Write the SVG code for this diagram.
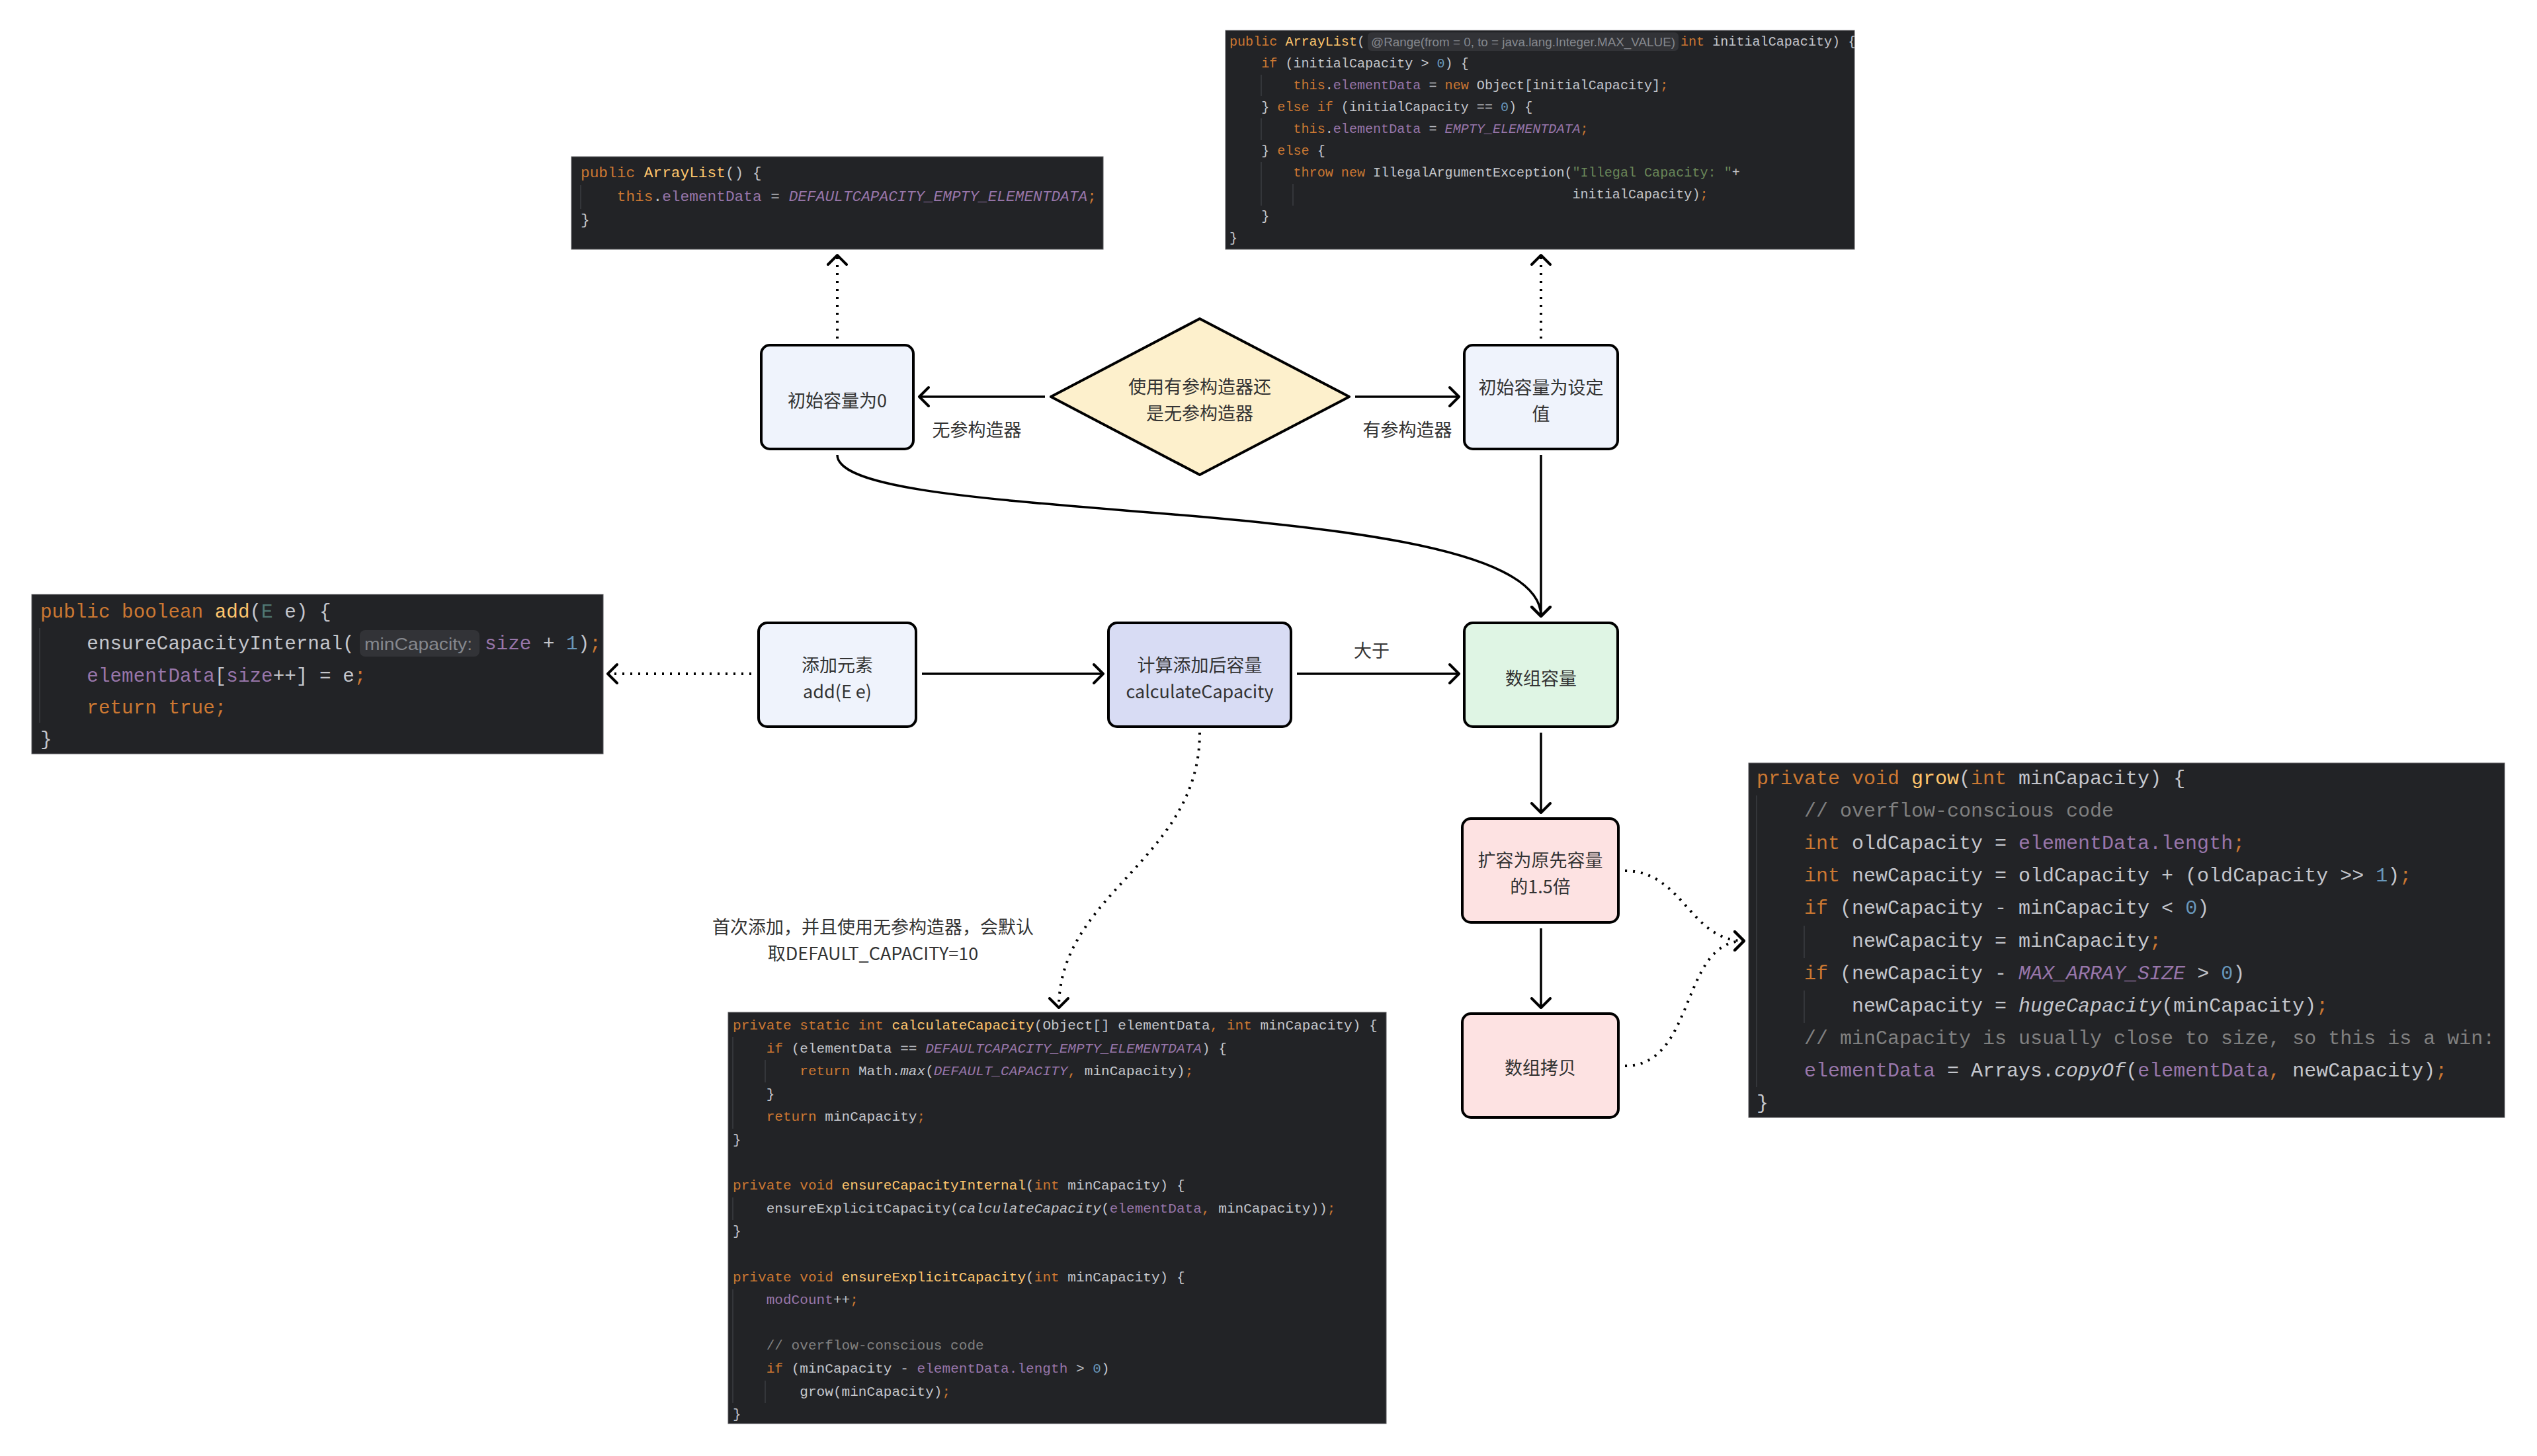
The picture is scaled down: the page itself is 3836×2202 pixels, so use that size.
<svg xmlns="http://www.w3.org/2000/svg" width="3836" height="2202" viewBox="0 0 3836 2202">
<style>
.bg{fill:#ffffff}
.code{fill:#222326;stroke:#5a5b5e;stroke-width:1}
.guide{stroke:#34363a;stroke-width:2}
.mono{font-family:"Liberation Mono","DejaVu Sans Mono",monospace;fill:#c4c6cc;dominant-baseline:central}
.k{fill:#cc7832}
.f{fill:#ffc66d}
.v{fill:#9876aa}
.c{fill:#9876aa;font-style:italic}
.i{font-style:italic}
.n{fill:#6897bb}
.s{fill:#6a8759}
.cm{fill:#808080}
.tp{fill:#507874}
.hintbg{fill:#323337}
.hint{font-family:"Liberation Sans","Noto Sans",sans-serif;fill:#85888e;dominant-baseline:central}
.node{stroke:#000;stroke-width:4}
.lbl{font-family:"Noto Sans CJK SC","Noto Sans",sans-serif;font-size:27px;fill:#333333;text-anchor:middle;dominant-baseline:central}
.solid{fill:none;stroke:#000;stroke-width:3.5}
.dot{fill:none;stroke:#000;stroke-width:4;stroke-dasharray:3 9}
</style>
<defs>
<marker id="arr" viewBox="-2 -18 20 36" refX="14" refY="0" markerWidth="20" markerHeight="36" markerUnits="userSpaceOnUse" orient="auto">
<path d="M0,-14 L14,0 L0,14" fill="none" stroke="#000" stroke-width="4" stroke-linecap="round" stroke-linejoin="round"/>
</marker>
</defs>
<rect class="bg" x="0" y="0" width="3836" height="2202"/>

<g id="code-arraylist-noarg">
<rect class="code" x="864" y="237" width="804" height="140"/>
<line class="guide" x1="878" y1="280" x2="878" y2="316"/>
<text class="mono" font-size="22.8" x="878" y="262" xml:space="preserve"><tspan class="k">public </tspan><tspan class="f">ArrayList</tspan>() {</text>
<text class="mono" font-size="22.8" x="878" y="298" xml:space="preserve">    <tspan class="k">this</tspan>.<tspan class="v">elementData</tspan> = <tspan class="c">DEFAULTCAPACITY_EMPTY_ELEMENTDATA</tspan><tspan class="k">;</tspan></text>
<text class="mono" font-size="22.8" x="878" y="333" xml:space="preserve">}</text>
</g>

<g id="code-arraylist-int">
<rect class="code" x="1853" y="46" width="951" height="331"/>
<line class="guide" x1="1907" y1="113" x2="1907" y2="145"/>
<line class="guide" x1="1907" y1="179" x2="1907" y2="212"/>
<line class="guide" x1="1907" y1="245" x2="1907" y2="311"/>
<line class="guide" x1="1955" y1="278" x2="1955" y2="311"/>
<text class="mono" font-size="20.1" x="1859" y="63" xml:space="preserve"><tspan class="k">public </tspan><tspan class="f">ArrayList</tspan>(</text>
<rect class="hintbg" x="2068" y="49" width="470" height="28" rx="6"/>
<text class="hint" font-size="19" x="2073" y="63" textLength="460" lengthAdjust="spacingAndGlyphs">@Range(from = 0, to = java.lang.Integer.MAX_VALUE)</text>
<text class="mono" font-size="20.1" x="2541" y="63" xml:space="preserve"><tspan class="k">int </tspan>initialCapacity) {</text>
<text class="mono" font-size="20.1" x="1859" y="96" xml:space="preserve">    <tspan class="k">if </tspan>(initialCapacity &gt; <tspan class="n">0</tspan>) {</text>
<text class="mono" font-size="20.1" x="1859" y="129" xml:space="preserve">        <tspan class="k">this</tspan>.<tspan class="v">elementData</tspan> = <tspan class="k">new </tspan>Object[initialCapacity]<tspan class="k">;</tspan></text>
<text class="mono" font-size="20.1" x="1859" y="162" xml:space="preserve">    } <tspan class="k">else if </tspan>(initialCapacity == <tspan class="n">0</tspan>) {</text>
<text class="mono" font-size="20.1" x="1859" y="195" xml:space="preserve">        <tspan class="k">this</tspan>.<tspan class="v">elementData</tspan> = <tspan class="c">EMPTY_ELEMENTDATA</tspan><tspan class="k">;</tspan></text>
<text class="mono" font-size="20.1" x="1859" y="228" xml:space="preserve">    } <tspan class="k">else </tspan>{</text>
<text class="mono" font-size="20.1" x="1859" y="261" xml:space="preserve">        <tspan class="k">throw new </tspan>IllegalArgumentException(<tspan class="s">"Illegal Capacity: "</tspan>+</text>
<text class="mono" font-size="20.1" x="1859" y="294" xml:space="preserve">                                           initialCapacity)<tspan class="k">;</tspan></text>
<text class="mono" font-size="20.1" x="1859" y="327" xml:space="preserve">    }</text>
<text class="mono" font-size="20.1" x="1859" y="360" xml:space="preserve">}</text>
</g>

<g id="code-add">
<rect class="code" x="48" y="899" width="864" height="241"/>
<line class="guide" x1="60" y1="950" x2="60" y2="1093"/>
<text class="mono" font-size="29.3" x="61" y="926" xml:space="preserve"><tspan class="k">public boolean </tspan><tspan class="f">add</tspan>(<tspan class="tp">E</tspan> e) {</text>
<text class="mono" font-size="29.3" x="61" y="974" xml:space="preserve">    ensureCapacityInternal(</text>
<rect class="hintbg" x="544" y="953" width="181" height="40" rx="8"/>
<text class="hint" font-size="26" x="551" y="974" textLength="163" lengthAdjust="spacingAndGlyphs">minCapacity:</text>
<text class="mono" font-size="29.3" x="733" y="974" xml:space="preserve"><tspan class="v">size</tspan> + <tspan class="n">1</tspan>)<tspan class="k">;</tspan></text>
<text class="mono" font-size="29.3" x="61" y="1023" xml:space="preserve">    <tspan class="v">elementData</tspan>[<tspan class="v">size</tspan>++] = e<tspan class="k">;</tspan></text>
<text class="mono" font-size="29.3" x="61" y="1071" xml:space="preserve">    <tspan class="k">return true;</tspan></text>
<text class="mono" font-size="29.3" x="61" y="1119" xml:space="preserve">}</text>
</g>

<g id="code-grow">
<rect class="code" x="2644" y="1154" width="1143" height="536"/>
<line class="guide" x1="2656" y1="1203" x2="2656" y2="1644"/>
<line class="guide" x1="2728" y1="1400" x2="2728" y2="1449"/>
<line class="guide" x1="2728" y1="1498" x2="2728" y2="1547"/>
<text class="mono" font-size="30" x="2656" y="1178" xml:space="preserve"><tspan class="k">private void </tspan><tspan class="f">grow</tspan>(<tspan class="k">int </tspan>minCapacity) {</text>
<text class="mono" font-size="30" x="2656" y="1227" xml:space="preserve">    <tspan class="cm">// overflow-conscious code</tspan></text>
<text class="mono" font-size="30" x="2656" y="1276" xml:space="preserve">    <tspan class="k">int </tspan>oldCapacity = <tspan class="v">elementData.length</tspan><tspan class="k">;</tspan></text>
<text class="mono" font-size="30" x="2656" y="1325" xml:space="preserve">    <tspan class="k">int </tspan>newCapacity = oldCapacity + (oldCapacity &gt;&gt; <tspan class="n">1</tspan>)<tspan class="k">;</tspan></text>
<text class="mono" font-size="30" x="2656" y="1374" xml:space="preserve">    <tspan class="k">if </tspan>(newCapacity - minCapacity &lt; <tspan class="n">0</tspan>)</text>
<text class="mono" font-size="30" x="2656" y="1424" xml:space="preserve">        newCapacity = minCapacity<tspan class="k">;</tspan></text>
<text class="mono" font-size="30" x="2656" y="1473" xml:space="preserve">    <tspan class="k">if </tspan>(newCapacity - <tspan class="c">MAX_ARRAY_SIZE</tspan> &gt; <tspan class="n">0</tspan>)</text>
<text class="mono" font-size="30" x="2656" y="1522" xml:space="preserve">        newCapacity = <tspan class="i">hugeCapacity</tspan>(minCapacity)<tspan class="k">;</tspan></text>
<text class="mono" font-size="30" x="2656" y="1571" xml:space="preserve">    <tspan class="cm">// minCapacity is usually close to size, so this is a win:</tspan></text>
<text class="mono" font-size="30" x="2656" y="1620" xml:space="preserve">    <tspan class="v">elementData</tspan> = Arrays.<tspan class="i">copyOf</tspan>(<tspan class="v">elementData</tspan><tspan class="k">, </tspan>newCapacity)<tspan class="k">;</tspan></text>
<text class="mono" font-size="30" x="2656" y="1669" xml:space="preserve">}</text>
</g>

<g id="code-calculate">
<rect class="code" x="1101" y="1531" width="995" height="622"/>
<line class="guide" x1="1108" y1="1568" x2="1108" y2="1707"/>
<line class="guide" x1="1157" y1="1603" x2="1157" y2="1637"/>
<line class="guide" x1="1108" y1="1811" x2="1108" y2="1845"/>
<line class="guide" x1="1108" y1="1950" x2="1108" y2="2122"/>
<line class="guide" x1="1157" y1="2088" x2="1157" y2="2122"/>
<text class="mono" font-size="21.1" x="1108" y="1551" xml:space="preserve"><tspan class="k">private static int </tspan><tspan class="f">calculateCapacity</tspan>(Object[] elementData<tspan class="k">, int </tspan>minCapacity) {</text>
<text class="mono" font-size="21.1" x="1108" y="1586" xml:space="preserve">    <tspan class="k">if </tspan>(elementData == <tspan class="c">DEFAULTCAPACITY_EMPTY_ELEMENTDATA</tspan>) {</text>
<text class="mono" font-size="21.1" x="1108" y="1620" xml:space="preserve">        <tspan class="k">return </tspan>Math.<tspan class="i">max</tspan>(<tspan class="c">DEFAULT_CAPACITY</tspan><tspan class="k">, </tspan>minCapacity)<tspan class="k">;</tspan></text>
<text class="mono" font-size="21.1" x="1108" y="1655" xml:space="preserve">    }</text>
<text class="mono" font-size="21.1" x="1108" y="1689" xml:space="preserve">    <tspan class="k">return </tspan>minCapacity<tspan class="k">;</tspan></text>
<text class="mono" font-size="21.1" x="1108" y="1724" xml:space="preserve">}</text>
<text class="mono" font-size="21.1" x="1108" y="1793" xml:space="preserve"><tspan class="k">private void </tspan><tspan class="f">ensureCapacityInternal</tspan>(<tspan class="k">int </tspan>minCapacity) {</text>
<text class="mono" font-size="21.1" x="1108" y="1828" xml:space="preserve">    ensureExplicitCapacity(<tspan class="i">calculateCapacity</tspan>(<tspan class="v">elementData</tspan><tspan class="k">, </tspan>minCapacity))<tspan class="k">;</tspan></text>
<text class="mono" font-size="21.1" x="1108" y="1862" xml:space="preserve">}</text>
<text class="mono" font-size="21.1" x="1108" y="1932" xml:space="preserve"><tspan class="k">private void </tspan><tspan class="f">ensureExplicitCapacity</tspan>(<tspan class="k">int </tspan>minCapacity) {</text>
<text class="mono" font-size="21.1" x="1108" y="1966" xml:space="preserve">    <tspan class="v">modCount</tspan>++<tspan class="k">;</tspan></text>
<text class="mono" font-size="21.1" x="1108" y="2035" xml:space="preserve">    <tspan class="cm">// overflow-conscious code</tspan></text>
<text class="mono" font-size="21.1" x="1108" y="2070" xml:space="preserve">    <tspan class="k">if </tspan>(minCapacity - <tspan class="v">elementData.length</tspan> &gt; <tspan class="n">0</tspan>)</text>
<text class="mono" font-size="21.1" x="1108" y="2105" xml:space="preserve">        grow(minCapacity)<tspan class="k">;</tspan></text>
<text class="mono" font-size="21.1" x="1108" y="2139" xml:space="preserve">}</text>
</g>

<g id="connectors">
<path class="dot" d="M1266,512 L1266,386" marker-end="url(#arr)"/>
<path class="dot" d="M2330,512 L2330,386" marker-end="url(#arr)"/>
<path class="solid" d="M1580,600 L1390,600" marker-end="url(#arr)"/>
<path class="solid" d="M2049,600 L2206,600" marker-end="url(#arr)"/>
<path class="solid" d="M1266,688 C1266,800 2330,740 2330,932" marker-end="url(#arr)"/>
<path class="solid" d="M2330,688 L2330,932" marker-end="url(#arr)"/>
<path class="dot" d="M1136,1019 L919,1019" marker-end="url(#arr)"/>
<path class="solid" d="M1394,1019 L1668,1019" marker-end="url(#arr)"/>
<path class="solid" d="M1961,1019 L2206,1019" marker-end="url(#arr)"/>
<path class="dot" d="M1814,1108 C1814,1300 1601,1350 1601,1524" marker-end="url(#arr)"/>
<path class="solid" d="M2330,1108 L2330,1229" marker-end="url(#arr)"/>
<path class="solid" d="M2330,1404 L2330,1524" marker-end="url(#arr)"/>
<path class="dot" d="M2457,1317 C2545,1317 2555,1423 2637,1423" marker-end="url(#arr)"/>
<path class="dot" d="M2457,1612 C2565,1612 2540,1423 2637,1423" marker-end="url(#arr)"/>
<text class="lbl" x="1477" y="648">无参构造器</text>
<text class="lbl" x="2128" y="648">有参构造器</text>
<text class="lbl" x="2074" y="982">大于</text>
<text class="lbl" x="1320" y="1400">首次添加，并且使用无参构造器，会默认</text>
<text class="lbl" x="1320" y="1440">取DEFAULT_CAPACITY=10</text>
</g>

<g id="node-decision">
<polygon class="node" points="1814,482 2040,600 1814,718 1589,600" fill="#fdf0cc" stroke-linejoin="round"/>
<text class="lbl" x="1814" y="583">使用有参构造器还</text>
<text class="lbl" x="1814" y="623">是无参构造器</text>
</g>
<g id="node-init-zero">
<rect class="node" x="1151" y="522" width="230" height="157" rx="13" fill="#eff3fc"/>
<text class="lbl" x="1266" y="604">初始容量为0</text>
</g>
<g id="node-init-set">
<rect class="node" x="2214" y="522" width="232" height="157" rx="13" fill="#eff3fc"/>
<text class="lbl" x="2330" y="584">初始容量为设定</text>
<text class="lbl" x="2330" y="624">值</text>
</g>
<g id="node-add">
<rect class="node" x="1147" y="942" width="238" height="157" rx="13" fill="#eff3fc"/>
<text class="lbl" x="1266" y="1004">添加元素</text>
<text class="lbl" x="1266" y="1044">add(E e)</text>
</g>
<g id="node-calc">
<rect class="node" x="1676" y="942" width="276" height="157" rx="13" fill="#d8dcf4"/>
<text class="lbl" x="1814" y="1004">计算添加后容量</text>
<text class="lbl" x="1814" y="1044">calculateCapacity</text>
</g>
<g id="node-capacity">
<rect class="node" x="2214" y="942" width="232" height="157" rx="13" fill="#dff5e4"/>
<text class="lbl" x="2330" y="1024">数组容量</text>
</g>
<g id="node-expand">
<rect class="node" x="2211" y="1238" width="236" height="157" rx="13" fill="#fde2e2"/>
<text class="lbl" x="2329" y="1299">扩容为原先容量</text>
<text class="lbl" x="2329" y="1339">的1.5倍</text>
</g>
<g id="node-copy">
<rect class="node" x="2211" y="1533" width="236" height="157" rx="13" fill="#fde2e2"/>
<text class="lbl" x="2329" y="1613">数组拷贝</text>
</g>
</svg>
